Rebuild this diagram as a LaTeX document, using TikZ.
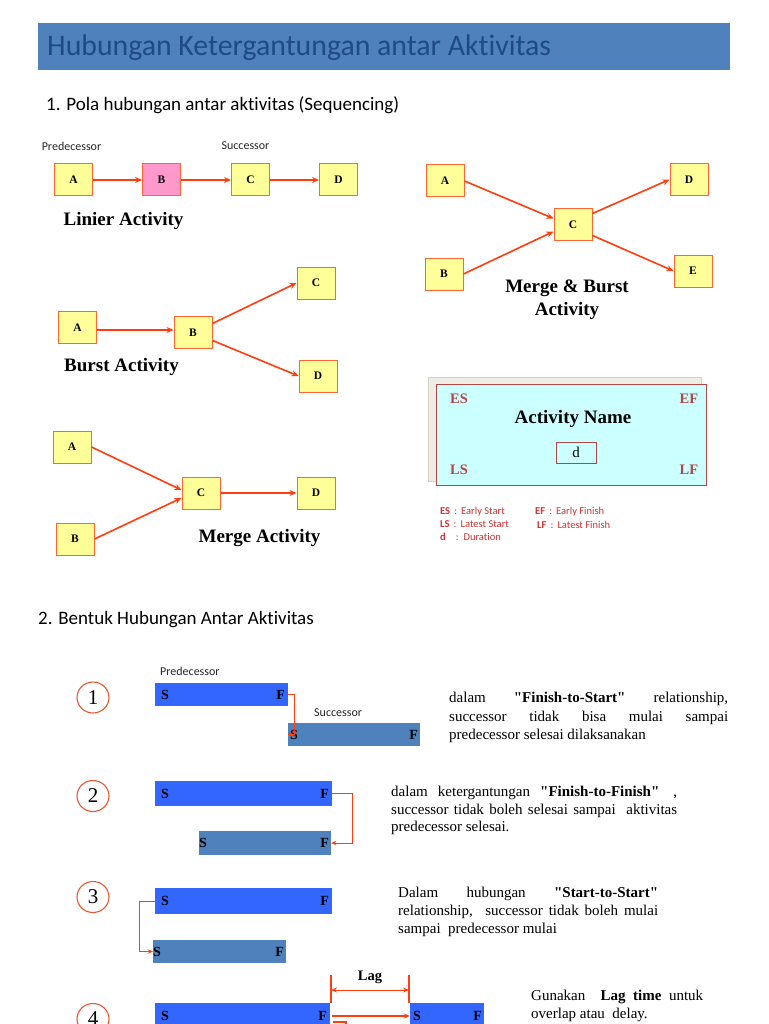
\documentclass[tikz,border=0pt]{standalone}
\usepackage{fontspec}
\setmainfont{Liberation Serif}
\newfontfamily\calfont[Ligatures={NoCommon}]{Carlito}
\usetikzlibrary{arrows.meta,shapes.geometric}
\definecolor{hdrbg}{HTML}{4F81BD}
\definecolor{hdrtx}{HTML}{1F4A85}
\definecolor{boxfill}{HTML}{FFFF99}
\definecolor{boxline}{HTML}{FF6633}
\definecolor{pinkfill}{HTML}{FF99CC}
\definecolor{arrc}{HTML}{FF3D0F}
\definecolor{bara}{HTML}{3366FF}
\definecolor{barb}{HTML}{4F81BD}
\definecolor{esred}{HTML}{B04848}
\definecolor{legred}{HTML}{CC3333}
\definecolor{cyanfill}{HTML}{CCFFFF}
\definecolor{shadowfill}{HTML}{EEECE4}
\definecolor{shadowline}{HTML}{D6D0C2}
\definecolor{circc}{HTML}{E8572F}
\newcommand{\qd}{\textquotedbl}
\tikzset{
  act/.style={draw=boxline, fill=boxfill, line width=1pt, minimum width=38pt, minimum height=32pt, inner sep=0pt, font=\bfseries\fontsize{11.5}{11.5}\selectfont},
  arr/.style={draw=arrc, line width=1.6pt, -{Stealth[length=7pt,width=6pt]}},
  capt/.style={font=\bfseries\fontsize{19}{23}\selectfont, align=center},
  small/.style={font=\calfont\fontsize{12}{12}\selectfont, text=black!85},
  head/.style={font=\calfont\fontsize{19}{19}\selectfont, anchor=west},
  predbar/.style={fill=bara, minimum height=24pt, inner sep=0pt},
  succbar/.style={fill=barb, minimum height=24pt, inner sep=0pt},
  sf/.style={font=\bfseries\fontsize{14}{14}\selectfont, inner sep=0pt},
  rel/.style={draw=arrc, line width=1pt, -{Stealth[length=5pt,width=4.5pt]}},
  numc/.style={draw=circc, line width=1.1pt, ellipse, minimum width=32pt, minimum height=31pt, inner sep=0pt, font=\fontsize{21}{21}\selectfont},
  desc/.style={font=\fontsize{15}{18.5}\selectfont, anchor=north west, inner sep=0pt, align=left},
  esl/.style={font=\bfseries\fontsize{14.5}{14.5}\selectfont, text=esred},
  leg/.style={font=\calfont\fontsize{10.5}{10.5}\selectfont, text=legred, anchor=west, inner sep=0pt}
}
\begin{document}
\begin{tikzpicture}[x=1pt,y=-1pt]
\useasboundingbox (0,0) rectangle (768,1024);
\clip (0,0) rectangle (768,1024);
% header
\node[fill=hdrbg, minimum width=692pt, minimum height=47pt, inner sep=0pt, anchor=north west] (hdr) at (38,23) {};
\node[anchor=west, text=hdrtx, font=\calfont\fontsize{29.8}{29.8}\selectfont, inner sep=0pt] (title) at (47,47.5) {Hubungan Ketergantungan antar Aktivitas};
\node[head, inner sep=0pt] (h1) at (46,105) {1. Pola hubungan antar aktivitas (Sequencing)};
\node[head, inner sep=0pt] (h2) at (38,620) {2. Bentuk Hubungan Antar Aktivitas};

% Linier activity
\node[small] (lpred) at (71.5,146.5) {Predecessor};
\node[small] (lsucc) at (245.5,145.5) {Successor};
\node[act] (LA) at (73.5,180) {A};
\node[act, fill=pinkfill] (LB) at (161.5,180) {B};
\node[act] (LC) at (250.5,180) {C};
\node[act] (LD) at (338.5,180) {D};
\draw[arr] (LA) -- (LB);
\draw[arr] (LB) -- (LC);
\draw[arr] (LC) -- (LD);
\node[capt] (lcap) at (123.5,221) {Linier Activity};

% Merge & Burst
\node[act] (MA) at (445,181) {A};
\node[act] (MB) at (444,274) {B};
\node[act] (MC) at (573,224.5) {C};
\node[act] (MD) at (689,179.5) {D};
\node[act] (ME) at (693,271) {E};
\draw[arr] (MA.east) -- ([yshift=6pt]MC.west);
\draw[arr] (MB.east) -- ([yshift=-7pt]MC.west);
\draw[arr] ([yshift=11pt]MC.east) -- (MD.west);
\draw[arr] ([yshift=-11pt]MC.east) -- (ME.west);
\node[capt] (mbcap) at (567,299.5) {Merge \& Burst\\Activity};

% Burst
\node[act] (BA) at (77.5,327.5) {A};
\node[act] (BB) at (193,332.5) {B};
\node[act] (BC) at (316,283) {C};
\node[act] (BD) at (318,376) {D};
\draw[arr] ([yshift=-2.5pt]BA.east) -- ([yshift=2.5pt]BB.west);
\draw[arr] ([yshift=9pt]BB.east) -- (BC.west);
\draw[arr] ([yshift=-8pt]BB.east) -- (BD.west);
\node[capt] (bcap) at (121.5,367) {Burst Activity};

% Merge
\node[act] (GA) at (72,447) {A};
\node[act] (GB) at (75,539) {B};
\node[act] (GC) at (201,493) {C};
\node[act] (GD) at (316,493) {D};
\draw[arr] (GA.east) -- ([yshift=3pt]GC.west);
\draw[arr] (GB.east) -- ([yshift=-5pt]GC.west);
\draw[arr] (GC) -- (GD);
\node[capt] (gcap) at (259.5,538) {Merge Activity};

% Activity node legend
\node[draw=shadowline, fill=shadowfill, minimum width=273pt, minimum height=104pt, inner sep=0pt, line width=0.8pt] (shadow) at (564.5,429) {};
\node[draw=esred, fill=cyanfill, minimum width=270pt, minimum height=101pt, inner sep=0pt, line width=1pt] (actbox) at (571,434.5) {};
\node[esl] (es) at (459,399) {ES};
\node[esl] (ef) at (689,399) {EF};
\node[esl] (ls) at (459,470) {LS};
\node[esl] (lf) at (689,470) {LF};
\node[font=\bfseries\fontsize{19}{19}\selectfont] (aname) at (573,419) {Activity Name};
\node[draw=esred, line width=1pt, minimum width=40pt, minimum height=21pt, inner sep=0pt, font=\fontsize{15}{15}\selectfont] (dbox) at (576,452.5) {d};
\node[leg] (l1) at (440,512) {\textbf{ES}\, :\, Early Start};
\node[leg] (l2) at (535,512) {\textbf{EF}\, :\, Early Finish};
\node[leg] (l3) at (440,524.5) {\textbf{LS}\, :\, Latest Start};
\node[leg] (l4) at (537,524.5) {\textbf{LF}\, :\, Latest Finish};
\node[leg] (l5) at (440,537) {\textbf{d}\hspace{10pt}:\, Duration};

% Section 2 -- row 1
\node[numc] (n1) at (93,697.5) {1};
\node[small, anchor=west, inner sep=0pt] (r1pl) at (160,671) {Predecessor};
\node[predbar, minimum width=133pt, minimum height=23pt] (p1) at (221.5,694.5) {};
\node[small, anchor=west, inner sep=0pt] (r1sl) at (314,713) {Successor};
\node[succbar, minimum width=132pt, minimum height=23pt] (s1) at (354,734.5) {};
\node[sf, anchor=west] at ([xshift=6pt]p1.west) {S};
\node[sf, anchor=east] at ([xshift=-3pt]p1.east) {F};
\node[sf, anchor=west] at ([xshift=2pt]s1.west) {S};
\node[sf, anchor=east] at ([xshift=-2pt]s1.east) {F};
\draw[rel] (p1.east) -- ++(6,0) |- (s1.west);
\node[desc] (t1) at (449,692) {%
\makebox[279pt][s]{dalam \hspace{20pt} \textbf{\qd Finish-to-Start\qd} \hspace{20pt} relationship,}\\
\makebox[279pt][s]{successor tidak bisa mulai sampai}\\
predecessor selesai dilaksanakan};

% row 2
\node[numc] (n2) at (93,796) {2};
\node[predbar, minimum width=177pt, minimum height=25pt] (p2) at (243.5,793.5) {};
\node[succbar, minimum width=132pt, minimum height=24pt] (s2) at (265,843) {};
\node[sf, anchor=west] at ([xshift=6pt]p2.west) {S};
\node[sf, anchor=east] at ([xshift=-3pt]p2.east) {F};
\node[sf, anchor=west] at ([xshift=0pt]s2.west) {S};
\node[sf, anchor=east] at ([xshift=-2pt]s2.east) {F};
\draw[rel] (p2.east) -- ++(20,0) |- (s2.east);
\node[desc, font=\fontsize{15}{17.5}\selectfont] (t2) at (391,786) {%
\makebox[286pt][s]{dalam ketergantungan \textbf{\qd Finish-to-Finish\qd} \hspace{4pt},}\\
\makebox[286pt][s]{successor tidak boleh selesai sampai \ aktivitas}\\
predecessor selesai.};

% row 3
\node[numc] (n3) at (93,897) {3};
\node[predbar, minimum width=177pt, minimum height=26pt] (p3) at (243.5,901) {};
\node[succbar, minimum width=133pt, minimum height=23pt] (s3) at (219.5,951.5) {};
\node[sf, anchor=west] at ([xshift=6pt]p3.west) {S};
\node[sf, anchor=east] at ([xshift=-3pt]p3.east) {F};
\node[sf, anchor=west] at ([xshift=0pt]s3.west) {S};
\node[sf, anchor=east] at ([xshift=-2pt]s3.east) {F};
\draw[rel] (p3.west) -- ++(-15,0) |- (s3.west);
\node[desc, font=\fontsize{15}{18}\selectfont] (t3) at (398,887) {%
\makebox[260pt][s]{Dalam \hspace{20pt} hubungan \hspace{20pt} \textbf{\qd Start-to-Start\qd}}\\
\makebox[260pt][s]{relationship, \ successor tidak boleh mulai}\\
sampai \ predecessor mulai};

% row 4
\node[numc] (n4) at (93,1019) {4};
\node[predbar, minimum width=175pt, minimum height=26pt] (p4) at (242.5,1016) {};
\node[predbar, minimum width=74pt, minimum height=26pt] (s4) at (447,1016) {};
\node[sf, anchor=west] at ([xshift=6pt]p4.west) {S};
\node[sf, anchor=east] at ([xshift=-3pt]p4.east) {F};
\node[sf, anchor=west] at ([xshift=3pt]s4.west) {S};
\node[sf, anchor=east] at ([xshift=-2pt]s4.east) {F};
\coordinate (lagl) at (331,975);
\coordinate (lagr) at (409,975);
\draw[draw=arrc, line width=1.3pt] (lagl) -- (331,1003);
\draw[draw=arrc, line width=1.3pt] (lagr) -- (409,1003);
\draw[draw=arrc, line width=1pt, {Stealth[length=6pt,width=5pt]}-{Stealth[length=6pt,width=5pt]}] (331,990) -- (409,990);
\node[font=\bfseries\fontsize{14.5}{14.5}\selectfont] (lag) at (370,977) {Lag};
\draw[draw=arrc, line width=1.3pt, -{Stealth[length=6pt,width=5pt]}] ([xshift=2pt]p4.east) -- (s4.west);
\draw[draw=arrc, line width=1.3pt] (333,1022) -- (346,1022) -- (346,1026);
\node[desc, font=\fontsize{15}{18}\selectfont] (t4) at (531,990) {%
\makebox[172pt][s]{Gunakan \ \textbf{Lag time} untuk}\\
overlap atau \ delay.};
\end{tikzpicture}
\end{document}
